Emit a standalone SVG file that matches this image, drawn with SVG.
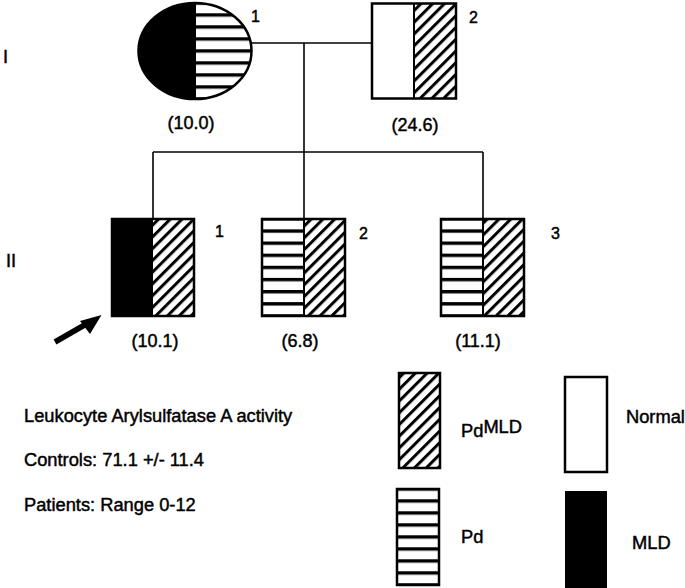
<svg xmlns="http://www.w3.org/2000/svg" width="685" height="588" viewBox="0 0 685 588">
<style>
text{font-family:"Liberation Sans",Arial,Helvetica,sans-serif;fill:#000;stroke:#000;stroke-width:0.45}
.t{font-size:18.3px}
.n{font-size:16px}
.v{font-size:18px;text-anchor:middle}
.box{fill:none;stroke:#000;stroke-width:2.5}
.div{stroke:#000;stroke-width:2}
.blk{fill:#000}
.wht{fill:#fff}
.hs{fill:url(#hstripe)}
.dg{fill:url(#diag)}
.con{stroke:#000;stroke-width:1.6;fill:none}
</style>
<defs>
<pattern id="hstripe" patternUnits="objectBoundingBox" x="0" y="-0.018" width="1" height="0.125">
<rect x="0" y="0" width="1000" height="1000" fill="#fff"/>
<rect x="0" y="0" width="1000" height="3.4" fill="#000"/>
</pattern>
<pattern id="diag" patternUnits="userSpaceOnUse" width="8.3" height="8.3" patternTransform="rotate(45)">
<rect x="0" y="0" width="8.3" height="8.3" fill="#fff"/>
<rect x="0" y="0" width="3" height="8.3" fill="#000"/>
</pattern>
<clipPath id="cl1"><ellipse cx="195" cy="51" rx="56.5" ry="48"/></clipPath>
</defs>

<g id="connectors">
<line class="con" x1="251" y1="43" x2="372" y2="43"/>
<line class="con" x1="304" y1="43" x2="304" y2="219"/>
<line class="con" x1="153" y1="152" x2="483" y2="152"/>
<line class="con" x1="153" y1="152" x2="153" y2="219"/>
<line class="con" x1="483" y1="152" x2="483" y2="219"/>
</g>

<g id="gen-labels">
<text class="t" x="3" y="63">I</text>
<text class="t" x="6" y="267">II</text>
</g>

<g id="I-1">
<g clip-path="url(#cl1)">
<rect class="blk" x="138" y="2" width="57" height="98"/>
<rect class="hs" x="195" y="3" width="57" height="96"/>
</g>
<line class="div" x1="195" y1="3" x2="195" y2="99"/>
<ellipse cx="195" cy="51" rx="56.5" ry="48" fill="none" stroke="#000" stroke-width="2.5"/>
<text class="n" x="251" y="22">1</text>
<text class="v" x="191" y="129">(10.0)</text>
</g>

<g id="I-2">
<rect class="wht" x="372" y="3.5" width="42" height="95"/>
<rect class="dg" x="414" y="3.5" width="42" height="95"/>
<line class="div" x1="414" y1="3.5" x2="414" y2="98.5"/>
<rect class="box" x="372" y="3.5" width="84" height="95"/>
<text class="n" x="469" y="23">2</text>
<text class="v" x="415" y="131">(24.6)</text>
</g>

<g id="II-1">
<rect class="blk" x="112" y="219" width="41" height="97"/>
<rect class="dg" x="153" y="219" width="41" height="97"/>
<rect class="box" x="112" y="219" width="82" height="97"/>
<text class="n" x="215" y="237">1</text>
<text class="v" x="155" y="347">(10.1)</text>
</g>

<g id="II-2">
<rect class="hs" x="262" y="219" width="42" height="97"/>
<rect class="dg" x="304" y="219" width="41" height="97"/>
<line class="div" x1="304" y1="219" x2="304" y2="316"/>
<rect class="box" x="262" y="219" width="83" height="97"/>
<text class="n" x="359" y="239">2</text>
<text class="v" x="300" y="347">(6.8)</text>
</g>

<g id="II-3">
<rect class="hs" x="441" y="219" width="42" height="97"/>
<rect class="dg" x="483" y="219" width="41" height="97"/>
<line class="div" x1="483" y1="219" x2="483" y2="316"/>
<rect class="box" x="441" y="219" width="83" height="97"/>
<text class="n" x="551" y="239">3</text>
<text class="v" x="478" y="347">(11.1)</text>
</g>

<g id="proband-arrow">
<line x1="55" y1="342" x2="88" y2="323" stroke="#000" stroke-width="5.5"/>
<polygon points="101.5,315 80,321 90,334" fill="#000"/>
</g>

<g id="legend-text">
<text class="t" x="24" y="422">Leukocyte Arylsulfatase A activity</text>
<text class="t" x="24" y="466">Controls: 71.1 +/- 11.4</text>
<text class="t" x="24" y="511">Patients: Range 0-12</text>
</g>

<g id="legend-pdmld">
<rect class="dg" x="399" y="373" width="41" height="95"/>
<rect class="box" x="399" y="373" width="41" height="95"/>
<text class="t" x="461" y="437">Pd<tspan dy="-4">MLD</tspan></text>
</g>

<g id="legend-normal">
<rect class="wht" x="565" y="377" width="42" height="95"/>
<rect class="box" x="565" y="377" width="42" height="95"/>
<text class="t" x="626" y="423">Normal</text>
</g>

<g id="legend-pd">
<rect class="hs" x="397" y="489" width="42" height="96"/>
<rect class="box" x="397" y="489" width="42" height="96"/>
<text class="t" x="461" y="543">Pd</text>
</g>

<g id="legend-mld">
<rect class="blk" x="565" y="491" width="42" height="98"/>
<text class="t" x="632" y="549">MLD</text>
</g>
</svg>
